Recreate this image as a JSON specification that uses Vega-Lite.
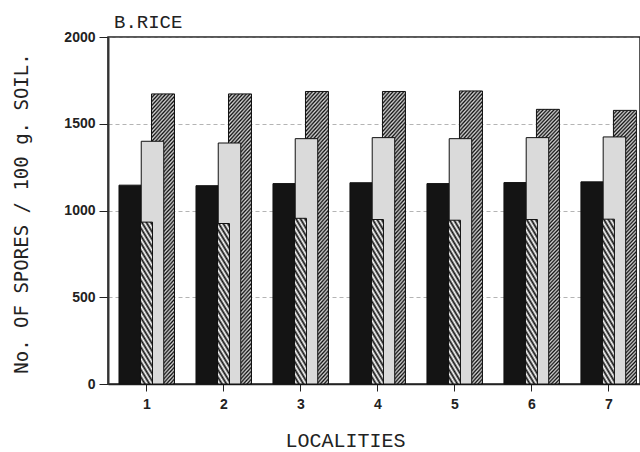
{
  "$schema": "https://vega.github.io/schema/vega-lite/v6.json",
  "width": 532,
  "height": 347,
  "autosize": {"type": "none"},
  "padding": {"left": 108, "top": 37, "right": 0, "bottom": 68},
  "background": "white",
  "title": {"text": "B.RICE", "anchor": "start", "frame": "group", "dx": 6, "dy": 21, "offset": 4, "baseline": "alphabetic", "font": "Liberation Mono", "fontSize": 19, "fontWeight": "normal", "color": "#222"},
  "config": {"view": {"stroke": "#222", "strokeWidth": 1.5}},
  "data": {"values": [
    {"loc": 1, "series": "a", "value": 1146}, {"loc": 1, "series": "b", "value": 933}, {"loc": 1, "series": "c", "value": 1399}, {"loc": 1, "series": "d", "value": 1672},
    {"loc": 2, "series": "a", "value": 1143}, {"loc": 2, "series": "b", "value": 925}, {"loc": 2, "series": "c", "value": 1389}, {"loc": 2, "series": "d", "value": 1672},
    {"loc": 3, "series": "a", "value": 1155}, {"loc": 3, "series": "b", "value": 955}, {"loc": 3, "series": "c", "value": 1414}, {"loc": 3, "series": "d", "value": 1686},
    {"loc": 4, "series": "a", "value": 1160}, {"loc": 4, "series": "b", "value": 948}, {"loc": 4, "series": "c", "value": 1420}, {"loc": 4, "series": "d", "value": 1686},
    {"loc": 5, "series": "a", "value": 1155}, {"loc": 5, "series": "b", "value": 944}, {"loc": 5, "series": "c", "value": 1414}, {"loc": 5, "series": "d", "value": 1689},
    {"loc": 6, "series": "a", "value": 1161}, {"loc": 6, "series": "b", "value": 948}, {"loc": 6, "series": "c", "value": 1420}, {"loc": 6, "series": "d", "value": 1583},
    {"loc": 7, "series": "a", "value": 1165}, {"loc": 7, "series": "b", "value": 950}, {"loc": 7, "series": "c", "value": 1424}, {"loc": 7, "series": "d", "value": 1577}
  ]},
  "encoding": {
    "x": {"field": "loc", "type": "quantitative", "scale": {"domain": [0.5, 7.41], "nice": false, "zero": false, "padding": 0},
      "axis": {"values": [1, 2, 3, 4, 5, 6, 7], "format": "d", "grid": false, "title": "LOCALITIES",
        "titleFont": "Liberation Mono", "titleFontSize": 20, "titleFontWeight": "normal", "titleColor": "#222",
        "titleX": 237, "titleY": 62, "titleBaseline": "alphabetic", "titleAlign": "center",
        "labelFont": "Liberation Sans", "labelFontSize": 14, "labelFontWeight": "bold", "labelColor": "#222",
        "labelPadding": 6, "tickSize": 7, "tickColor": "#222", "domainColor": "#222", "domainWidth": 1.5}},
    "y": {"field": "value", "type": "quantitative", "stack": null, "scale": {"domain": [0, 2000], "nice": false, "padding": 0},
      "axis": {"values": [0, 500, 1000, 1500, 2000], "format": "d", "title": "No. OF SPORES / 100 g. SOIL.",
        "titleFont": "DejaVu Sans Mono", "titleFontSize": 19, "titleFontWeight": "normal", "titleColor": "#222",
        "titleAngle": 270, "titleX": -81, "titleY": 176, "titleBaseline": "alphabetic", "titleAlign": "center",
        "labelFont": "Liberation Sans", "labelFontSize": 14, "labelFontWeight": "bold", "labelColor": "#222",
        "labelPadding": 4, "tickSize": 9, "tickColor": "#222", "domainColor": "#333", "domainWidth": 2,
        "grid": true, "gridDash": [4, 3], "gridColor": "#777", "gridOpacity": 0.55, "gridWidth": 1}}
  },
  "layer": [
    {"transform": [{"filter": "datum.series === 'a'"}],
     "mark": {"type": "bar", "orient": "vertical", "width": 22, "xOffset": -16.5, "fill": "#141414", "stroke": "#111", "strokeWidth": 1}},
    {"transform": [{"filter": "datum.series === 'd'"}],
     "mark": {"type": "bar", "orient": "vertical", "width": 23, "xOffset": 16.5, "stroke": "#111", "strokeWidth": 1,
       "fill": {"gradient": "linear", "x1": 0, "y1": 0, "x2": 0.1194, "y2": 1.3619, "stops": [
{"offset":0,"color":"#111"},{"offset":0.005,"color":"#d4d4d4"},{"offset":0.01,"color":"#111"},{"offset":0.015,"color":"#d4d4d4"},{"offset":0.02,"color":"#111"},{"offset":0.025,"color":"#d4d4d4"},{"offset":0.03,"color":"#111"},{"offset":0.035,"color":"#d4d4d4"},{"offset":0.04,"color":"#111"},{"offset":0.045,"color":"#d4d4d4"},
{"offset":0.05,"color":"#111"},{"offset":0.055,"color":"#d4d4d4"},{"offset":0.06,"color":"#111"},{"offset":0.065,"color":"#d4d4d4"},{"offset":0.07,"color":"#111"},{"offset":0.075,"color":"#d4d4d4"},{"offset":0.08,"color":"#111"},{"offset":0.085,"color":"#d4d4d4"},{"offset":0.09,"color":"#111"},{"offset":0.095,"color":"#d4d4d4"},
{"offset":0.1,"color":"#111"},{"offset":0.105,"color":"#d4d4d4"},{"offset":0.11,"color":"#111"},{"offset":0.115,"color":"#d4d4d4"},{"offset":0.12,"color":"#111"},{"offset":0.125,"color":"#d4d4d4"},{"offset":0.13,"color":"#111"},{"offset":0.135,"color":"#d4d4d4"},{"offset":0.14,"color":"#111"},{"offset":0.145,"color":"#d4d4d4"},
{"offset":0.15,"color":"#111"},{"offset":0.155,"color":"#d4d4d4"},{"offset":0.16,"color":"#111"},{"offset":0.165,"color":"#d4d4d4"},{"offset":0.17,"color":"#111"},{"offset":0.175,"color":"#d4d4d4"},{"offset":0.18,"color":"#111"},{"offset":0.185,"color":"#d4d4d4"},{"offset":0.19,"color":"#111"},{"offset":0.195,"color":"#d4d4d4"},
{"offset":0.2,"color":"#111"},{"offset":0.205,"color":"#d4d4d4"},{"offset":0.21,"color":"#111"},{"offset":0.215,"color":"#d4d4d4"},{"offset":0.22,"color":"#111"},{"offset":0.225,"color":"#d4d4d4"},{"offset":0.23,"color":"#111"},{"offset":0.235,"color":"#d4d4d4"},{"offset":0.24,"color":"#111"},{"offset":0.245,"color":"#d4d4d4"},
{"offset":0.25,"color":"#111"},{"offset":0.255,"color":"#d4d4d4"},{"offset":0.26,"color":"#111"},{"offset":0.265,"color":"#d4d4d4"},{"offset":0.27,"color":"#111"},{"offset":0.275,"color":"#d4d4d4"},{"offset":0.28,"color":"#111"},{"offset":0.285,"color":"#d4d4d4"},{"offset":0.29,"color":"#111"},{"offset":0.295,"color":"#d4d4d4"},
{"offset":0.3,"color":"#111"},{"offset":0.305,"color":"#d4d4d4"},{"offset":0.31,"color":"#111"},{"offset":0.315,"color":"#d4d4d4"},{"offset":0.32,"color":"#111"},{"offset":0.325,"color":"#d4d4d4"},{"offset":0.33,"color":"#111"},{"offset":0.335,"color":"#d4d4d4"},{"offset":0.34,"color":"#111"},{"offset":0.345,"color":"#d4d4d4"},
{"offset":0.35,"color":"#111"},{"offset":0.355,"color":"#d4d4d4"},{"offset":0.36,"color":"#111"},{"offset":0.365,"color":"#d4d4d4"},{"offset":0.37,"color":"#111"},{"offset":0.375,"color":"#d4d4d4"},{"offset":0.38,"color":"#111"},{"offset":0.385,"color":"#d4d4d4"},{"offset":0.39,"color":"#111"},{"offset":0.395,"color":"#d4d4d4"},
{"offset":0.4,"color":"#111"},{"offset":0.405,"color":"#d4d4d4"},{"offset":0.41,"color":"#111"},{"offset":0.415,"color":"#d4d4d4"},{"offset":0.42,"color":"#111"},{"offset":0.425,"color":"#d4d4d4"},{"offset":0.43,"color":"#111"},{"offset":0.435,"color":"#d4d4d4"},{"offset":0.44,"color":"#111"},{"offset":0.445,"color":"#d4d4d4"},
{"offset":0.45,"color":"#111"},{"offset":0.455,"color":"#d4d4d4"},{"offset":0.46,"color":"#111"},{"offset":0.465,"color":"#d4d4d4"},{"offset":0.47,"color":"#111"},{"offset":0.475,"color":"#d4d4d4"},{"offset":0.48,"color":"#111"},{"offset":0.485,"color":"#d4d4d4"},{"offset":0.49,"color":"#111"},{"offset":0.495,"color":"#d4d4d4"},
{"offset":0.5,"color":"#111"},{"offset":0.505,"color":"#d4d4d4"},{"offset":0.51,"color":"#111"},{"offset":0.515,"color":"#d4d4d4"},{"offset":0.52,"color":"#111"},{"offset":0.525,"color":"#d4d4d4"},{"offset":0.53,"color":"#111"},{"offset":0.535,"color":"#d4d4d4"},{"offset":0.54,"color":"#111"},{"offset":0.545,"color":"#d4d4d4"},
{"offset":0.55,"color":"#111"},{"offset":0.555,"color":"#d4d4d4"},{"offset":0.56,"color":"#111"},{"offset":0.565,"color":"#d4d4d4"},{"offset":0.57,"color":"#111"},{"offset":0.575,"color":"#d4d4d4"},{"offset":0.58,"color":"#111"},{"offset":0.585,"color":"#d4d4d4"},{"offset":0.59,"color":"#111"},{"offset":0.595,"color":"#d4d4d4"},
{"offset":0.6,"color":"#111"},{"offset":0.605,"color":"#d4d4d4"},{"offset":0.61,"color":"#111"},{"offset":0.615,"color":"#d4d4d4"},{"offset":0.62,"color":"#111"},{"offset":0.625,"color":"#d4d4d4"},{"offset":0.63,"color":"#111"},{"offset":0.635,"color":"#d4d4d4"},{"offset":0.64,"color":"#111"},{"offset":0.645,"color":"#d4d4d4"},
{"offset":0.65,"color":"#111"},{"offset":0.655,"color":"#d4d4d4"},{"offset":0.66,"color":"#111"},{"offset":0.665,"color":"#d4d4d4"},{"offset":0.67,"color":"#111"},{"offset":0.675,"color":"#d4d4d4"},{"offset":0.68,"color":"#111"},{"offset":0.685,"color":"#d4d4d4"},{"offset":0.69,"color":"#111"},{"offset":0.695,"color":"#d4d4d4"},
{"offset":0.7,"color":"#111"},{"offset":0.705,"color":"#d4d4d4"},{"offset":0.71,"color":"#111"},{"offset":0.715,"color":"#d4d4d4"},{"offset":0.72,"color":"#111"},{"offset":0.725,"color":"#d4d4d4"},{"offset":0.73,"color":"#111"},{"offset":0.735,"color":"#d4d4d4"},{"offset":0.74,"color":"#111"},{"offset":0.745,"color":"#d4d4d4"},
{"offset":0.75,"color":"#111"},{"offset":0.755,"color":"#d4d4d4"},{"offset":0.76,"color":"#111"},{"offset":0.765,"color":"#d4d4d4"},{"offset":0.77,"color":"#111"},{"offset":0.775,"color":"#d4d4d4"},{"offset":0.78,"color":"#111"},{"offset":0.785,"color":"#d4d4d4"},{"offset":0.79,"color":"#111"},{"offset":0.795,"color":"#d4d4d4"},
{"offset":0.8,"color":"#111"}
       ]}}},
    {"transform": [{"filter": "datum.series === 'c'"}],
     "mark": {"type": "bar", "orient": "vertical", "width": 22.5, "xOffset": 6, "fill": "#dadada", "stroke": "#111", "strokeWidth": 1}},
    {"transform": [{"filter": "datum.series === 'b'"}],
     "mark": {"type": "bar", "orient": "vertical", "width": 12, "xOffset": 0, "stroke": "#111", "strokeWidth": 1,
       "fill": {"gradient": "linear", "x1": 0, "y1": 1, "x2": 0.556, "y2": -3.533, "stops": [
{"offset":0,"color":"#111"},{"offset":0.005,"color":"#fff"},{"offset":0.01,"color":"#111"},{"offset":0.015,"color":"#fff"},{"offset":0.02,"color":"#111"},{"offset":0.025,"color":"#fff"},{"offset":0.03,"color":"#111"},{"offset":0.035,"color":"#fff"},{"offset":0.04,"color":"#111"},{"offset":0.045,"color":"#fff"},
{"offset":0.05,"color":"#111"},{"offset":0.055,"color":"#fff"},{"offset":0.06,"color":"#111"},{"offset":0.065,"color":"#fff"},{"offset":0.07,"color":"#111"},{"offset":0.075,"color":"#fff"},{"offset":0.08,"color":"#111"},{"offset":0.085,"color":"#fff"},{"offset":0.09,"color":"#111"},{"offset":0.095,"color":"#fff"},
{"offset":0.1,"color":"#111"},{"offset":0.105,"color":"#fff"},{"offset":0.11,"color":"#111"},{"offset":0.115,"color":"#fff"},{"offset":0.12,"color":"#111"},{"offset":0.125,"color":"#fff"},{"offset":0.13,"color":"#111"},{"offset":0.135,"color":"#fff"},{"offset":0.14,"color":"#111"},{"offset":0.145,"color":"#fff"},
{"offset":0.15,"color":"#111"},{"offset":0.155,"color":"#fff"},{"offset":0.16,"color":"#111"},{"offset":0.165,"color":"#fff"},{"offset":0.17,"color":"#111"},{"offset":0.175,"color":"#fff"},{"offset":0.18,"color":"#111"},{"offset":0.185,"color":"#fff"},{"offset":0.19,"color":"#111"},{"offset":0.195,"color":"#fff"},
{"offset":0.2,"color":"#111"},{"offset":0.205,"color":"#fff"},{"offset":0.21,"color":"#111"},{"offset":0.215,"color":"#fff"},{"offset":0.22,"color":"#111"},{"offset":0.225,"color":"#fff"},{"offset":0.23,"color":"#111"},{"offset":0.235,"color":"#fff"},{"offset":0.24,"color":"#111"},{"offset":0.245,"color":"#fff"},
{"offset":0.25,"color":"#111"}
       ]}}}
  ]
}
